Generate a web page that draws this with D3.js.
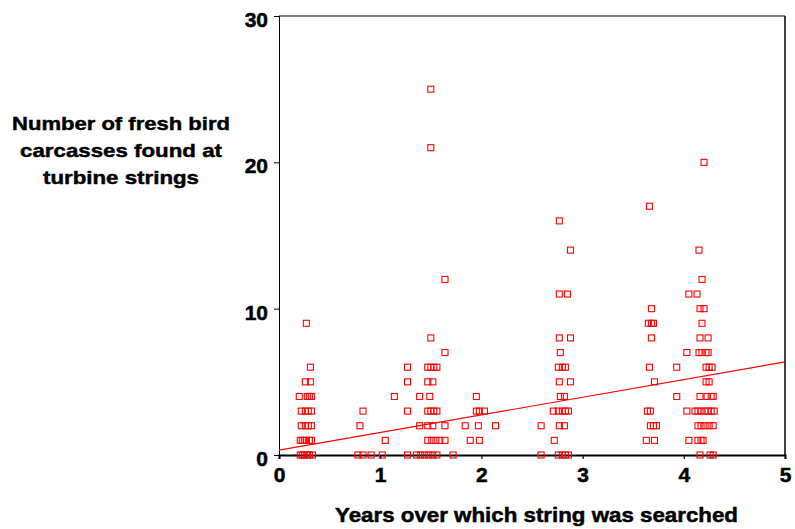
<!DOCTYPE html>
<html><head><meta charset="utf-8">
<script src="https://cdn.jsdelivr.net/npm/d3@7"></script>
<style>
html,body{margin:0;padding:0;background:#fff;}
svg{display:block;font-family:Arial,"Liberation Sans",sans-serif;font-weight:bold;}
</style></head>
<body>
<script>
// ---- data ----
const xTicks = [0, 1, 2, 3, 4, 5];
const yTicks = [0, 10, 20, 30];
const xTitle = "Years over which string was searched";
const yTitleLines = ["Number of fresh bird", "carcasses found at", "turbine strings"];

// years searched (x) and carcasses found (y), point by point
const years = [
  0.27,0.31,0.26,0.31,0.20,0.28,0.30,0.32,0.22,0.26,0.29,0.32,0.22,0.26,0.29,0.32,
  0.21,0.23,0.25,0.27,0.30,0.32,0.21,0.23,0.25,0.28,0.30,0.33,
  0.78,0.83,0.91,1.02,0.80,0.83,1.05,1.14,1.27,1.27,1.27,1.27,
  1.50,1.50,1.64,1.50,1.64,
  1.47,1.50,1.53,1.56,
  1.47,1.52,
  1.39,1.49,1.95,
  1.47,1.50,1.53,1.56,1.95,1.98,2.03,
  1.39,1.47,1.52,1.64,1.84,1.97,2.14,
  1.47,1.51,1.55,1.59,1.64,1.89,1.98,
  1.36,1.40,1.44,1.48,1.52,1.56,1.72,
  2.77,2.88,2.77,2.85,2.77,2.88,2.78,
  2.76,2.80,2.83,
  2.77,2.88,
  2.78,2.82,
  2.71,2.76,2.80,2.83,2.86,
  2.59,2.77,2.82,
  2.72,
  2.59,2.76,2.80,2.83,2.86,
  3.66,3.68,3.65,3.68,3.70,3.68,3.66,3.93,3.71,3.93,3.64,3.67,3.67,3.70,3.73,3.63,3.71,
  4.20,4.15,4.18,4.05,4.13,
  4.16,4.20,
  4.18,
  4.16,4.24,
  4.03,4.15,4.18,4.22,4.24,
  4.22,4.25,4.28,
  4.22,4.25,
  4.16,4.23,4.27,4.29,
  4.03,4.11,4.14,4.17,4.21,4.24,4.27,4.30,
  4.14,4.17,4.21,4.25,4.29,
  4.05,4.14,4.17,4.19,
  4.16,4.26,4.29
];
const carcasses = [
  9,6,5,5,4,4,4,4,3,3,3,3,2,2,2,2,
  1,1,1,1,1,1,0,0,0,0,0,0,
  0,0,0,0,2,3,1,4,6,5,3,0,
  25,21,12,8,7,
  6,6,6,6,
  5,5,
  4,4,4,
  3,3,3,3,3,3,3,
  2,2,2,2,2,2,2,
  1,1,1,1,1,1,1,
  0,0,0,0,0,0,0,
  16,14,11,11,8,8,7,
  6,6,6,
  5,5,
  4,4,
  3,3,3,3,3,
  2,2,2,
  1,
  0,0,0,0,0,
  17,10,9,9,9,8,6,6,5,4,3,3,2,2,2,1,1,
  20,14,12,11,11,
  10,10,
  9,
  8,8,
  7,7,7,7,7,
  6,6,6,
  5,5,
  4,4,4,4,
  3,3,3,3,3,3,3,3,
  2,2,2,2,2,
  1,1,1,1,
  0,0,0
];
// fitted trend line as drawn (start and end)
const fitX = [0, 5];
const fitY = [0.33, 6.36];

// ---- drawing ----
const W = 795, H = 529;
const svg = d3.select("body").append("svg").attr("width", W).attr("height", H);
const x = d3.scaleLinear().domain([0, 5]).range([279, 785]);
const y = d3.scaleLinear().domain([0, 30]).range([455, 16]);
const red = "#ff0000";
const FONT = "Arial, 'Liberation Sans', sans-serif";

// frame top & right
svg.append("line").attr("x1", x(0)).attr("x2", x(5)).attr("y1", y(30)).attr("y2", y(30))
  .attr("stroke", "#000").attr("stroke-width", 1);
svg.append("line").attr("x1", x(5)).attr("x2", x(5)).attr("y1", y(30)).attr("y2", y(0))
  .attr("stroke", "#000").attr("stroke-width", 1.5);

// y axis
const ya = svg.append("g").attr("transform", `translate(${x(0)},0)`)
  .call(d3.axisLeft(y).tickValues(yTicks).tickSize(5).tickPadding(6).tickFormat(d3.format("d")));
ya.select(".domain").attr("stroke", "#000").attr("stroke-width", 1);
ya.selectAll(".tick line").attr("stroke", "#000").attr("stroke-width", 1);
ya.selectAll("text").attr("font-size", 21).attr("font-weight", "bold")
  .attr("font-family", FONT).attr("fill", "#000").attr("stroke", "#000").attr("stroke-width", 0.5)
  .attr("dy", "0.5em");

// x axis
const xa = svg.append("g").attr("transform", `translate(0,${y(0)})`)
  .call(d3.axisBottom(x).tickValues(xTicks).tickSize(4).tickPadding(8).tickFormat(d3.format("d")));
xa.select(".domain").attr("stroke", "#000").attr("stroke-width", 2);
xa.selectAll(".tick line").attr("stroke", "#000").attr("stroke-width", 1.2);
xa.selectAll("text").attr("font-size", 21).attr("font-weight", "bold")
  .attr("font-family", FONT).attr("fill", "#000").attr("stroke", "#000").attr("stroke-width", 0.5);

// fit line
svg.append("line").attr("x1", x(fitX[0])).attr("y1", y(fitY[0])).attr("x2", x(fitX[1])).attr("y2", y(fitY[1]))
  .attr("stroke", red).attr("stroke-width", 1.2);

// points
const pts = years.map((v, i) => ({ x: v, y: carcasses[i] }));
const s = 6;
svg.append("g").selectAll("rect").data(pts).join("rect")
  .attr("x", d => x(d.x) - s / 2).attr("y", d => y(d.y) - s / 2)
  .attr("width", s).attr("height", s)
  .attr("fill", "none").attr("stroke", red).attr("stroke-width", 1.1);

// titles
svg.append("text").attr("x", 536.5).attr("y", 522).attr("text-anchor", "middle")
  .attr("font-size", 21).attr("fill", "#000").attr("stroke", "#000").attr("stroke-width", 0.5)
  .attr("textLength", 403).attr("lengthAdjust", "spacingAndGlyphs").text(xTitle);
const yLens = [218, 202, 156];
yTitleLines.forEach((t, i) => svg.append("text").attr("text-anchor", "middle")
  .attr("x", 121).attr("y", 130 + i * 27).attr("font-size", 19).attr("fill", "#000")
  .attr("stroke", "#000").attr("stroke-width", 0.45)
  .attr("textLength", yLens[i]).attr("lengthAdjust", "spacingAndGlyphs").text(t));
</script>
</body></html>
